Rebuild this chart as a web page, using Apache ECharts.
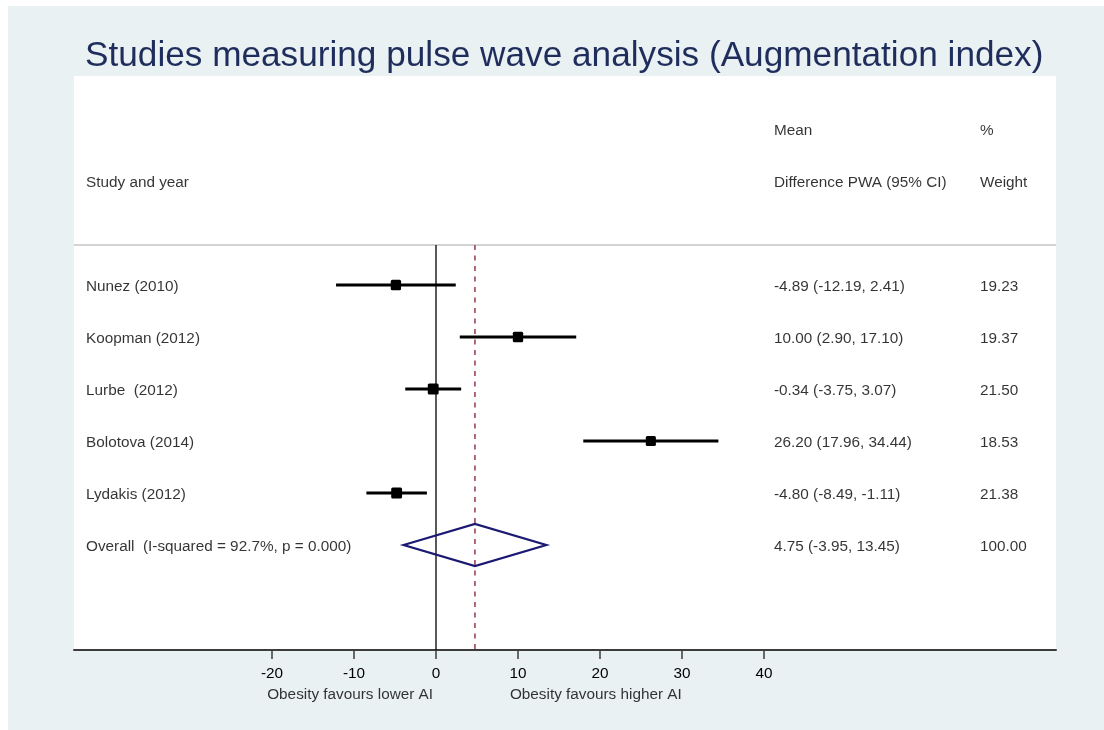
<!DOCTYPE html>
<html>
<head>
<meta charset="utf-8">
<script src="https://cdn.jsdelivr.net/npm/echarts@6/dist/echarts.min.js"></script>
<style>
  html, body { margin: 0; padding: 0; background: #ffffff; }
  #chart { position: absolute; left: 8px; top: 6px; width: 1096px; height: 724px; background: #eaf1f3; }
</style>
</head>
<body>
<div id="chart"></div>
<script>
// ---- Data ----
var studies   = ['Nunez (2010)', 'Koopman (2012)', 'Lurbe  (2012)', 'Bolotova (2014)', 'Lydakis (2012)'];
var estimates = [-4.89, 10.00, -0.34, 26.20, -4.80];
var lowerCI   = [-12.19, 2.90, -3.75, 17.96, -8.49];
var upperCI   = [2.41, 17.10, 3.07, 34.44, -1.11];
var weights   = [19.23, 19.37, 21.50, 18.53, 21.38];
var overallLabel = 'Overall  (I-squared = 92.7%, p = 0.000)';
var overallEst = 4.75, overallLo = -3.95, overallHi = 13.45, overallWeight = 100.00;
var tickValues = [-20, -10, 0, 10, 20, 30, 40];
var favourLabels = ['Obesity favours lower AI', 'Obesity favours higher AI'];
var headerTop = ['Mean', '%'];
var headerBottom = ['Study and year', 'Difference PWA (95% CI)', 'Weight'];
var titleText = 'Studies measuring pulse wave analysis (Augmentation index)';

// ---- Layout constants (data-unit positions of table columns) ----
var X_MIN = -44.146, X_MAX = 75.61;
var Y_MIN = -4.02, Y_MAX = 7.02;
var COL_STUDY = -42.68, COL_CI = 41.22, COL_W = 66.34;
var SEP_Y = -0.77;
var FONT = "'Liberation Sans', Arial, Helvetica, sans-serif";
var FS = 15.3;

function fmt(v) { return v.toFixed(2); }
function ciText(e, l, h) { return fmt(e) + ' (' + fmt(l) + ', ' + fmt(h) + ')'; }

var nRows = studies.length;
var overallRow = nRows;

// text columns
var studyTexts = studies.map(function (s, i) { return { value: [COL_STUDY, i], name: s }; });
studyTexts.push({ value: [COL_STUDY, overallRow], name: overallLabel });
studyTexts.push({ value: [COL_STUDY, -2], name: headerBottom[0] });

var ciTexts = estimates.map(function (e, i) { return { value: [COL_CI, i], name: ciText(e, lowerCI[i], upperCI[i]) }; });
ciTexts.push({ value: [COL_CI, overallRow], name: ciText(overallEst, overallLo, overallHi) });
ciTexts.push({ value: [COL_CI, -3], name: headerTop[0] });
ciTexts.push({ value: [COL_CI, -2], name: headerBottom[1] });

var wTexts = weights.map(function (w, i) { return { value: [COL_W, i], name: fmt(w) }; });
wTexts.push({ value: [COL_W, overallRow], name: fmt(overallWeight) });
wTexts.push({ value: [COL_W, -3], name: headerTop[1] });
wTexts.push({ value: [COL_W, -2], name: headerBottom[2] });

var ciData = estimates.map(function (e, i) { return [i, lowerCI[i], upperCI[i], e, weights[i]]; });

function textSeries(data, pos) {
  return {
    type: 'scatter', data: data, symbolSize: 0, silent: true, clip: false, z: 5,
    label: {
      show: true, position: pos || 'right', distance: 0, offset: [0, 2],
      formatter: function (p) { return p.name; },
      color: '#000', fontFamily: FONT, fontSize: FS
    },
    emphasis: { disabled: true }
  };
}

var chart = echarts.init(document.getElementById('chart'), null, { renderer: 'canvas' });
chart.setOption({
  animation: false,
  backgroundColor: '#eaf1f3',
  title: {
    text: titleText, left: 72, top: 28,
    textStyle: { color: '#1f2d5c', fontFamily: FONT, fontSize: 35.2, fontWeight: 'normal' }
  },
  grid: { left: 66, right: 48, top: 70, bottom: 80, show: true, backgroundColor: '#ffffff', borderWidth: 0 },
  xAxis: {
    type: 'value', min: X_MIN, max: X_MAX,
    splitLine: { show: false },
    axisLine: { show: true, onZero: false, lineStyle: { color: '#3c3c3c', width: 2 } },
    axisTick: { show: true, length: 9, customValues: tickValues, lineStyle: { color: '#3c3c3c', width: 1.5 } },
    axisLabel: { customValues: tickValues, margin: 16, color: '#000', fontFamily: FONT, fontSize: FS }
  },
  yAxis: {
    type: 'value', inverse: true, min: Y_MIN, max: Y_MAX, show: false,
    splitLine: { show: false }
  },
  series: [
    // separator line under header
    { type: 'line', data: [[X_MIN, SEP_Y], [X_MAX, SEP_Y]], symbol: 'none', silent: true,
      lineStyle: { color: '#c4c4c4', width: 1.5 }, z: 1 },
    // null line
    { type: 'line', data: [[0, SEP_Y], [0, Y_MAX]], symbol: 'none', silent: true,
      lineStyle: { color: '#000', width: 1.3 }, z: 2 },
    // overall effect dashed line
    { type: 'line', data: [[overallEst, SEP_Y], [overallEst, Y_MAX]], symbol: 'none', silent: true,
      lineStyle: { color: '#9a4652', width: 1.6, type: [5, 5.5] }, z: 2 },
    // CI lines + boxes
    { type: 'custom', silent: true, z: 4, data: ciData,
      renderItem: function (params, api) {
        var row = api.value(0);
        var a = api.coord([api.value(1), row]);
        var b = api.coord([api.value(2), row]);
        var c = api.coord([api.value(3), row]);
        var s = 10.5 * Math.sqrt(api.value(4) / 20);
        return { type: 'group', children: [
          { type: 'line', shape: { x1: a[0], y1: a[1], x2: b[0], y2: b[1] }, style: { stroke: '#000', lineWidth: 3 } },
          { type: 'rect', shape: { x: c[0] - s / 2, y: c[1] - s / 2, width: s, height: s, r: 1.5 }, style: { fill: '#000' } }
        ] };
      }
    },
    // overall diamond
    { type: 'custom', silent: true, z: 4, data: [[overallRow, overallLo, overallHi, overallEst]],
      renderItem: function (params, api) {
        var row = api.value(0), h = 0.404;
        var pts = [
          api.coord([api.value(1), row]),
          api.coord([api.value(3), row - h]),
          api.coord([api.value(2), row]),
          api.coord([api.value(3), row + h])
        ];
        return { type: 'polygon', shape: { points: pts }, style: { fill: 'none', stroke: '#1a1a72', lineWidth: 2.2, lineJoin: 'miter' } };
      }
    },
    textSeries(studyTexts),
    textSeries(ciTexts),
    textSeries(wTexts),
    textSeries([{ value: [-0.366, 7.85], name: favourLabels[0] }], 'left'),
    textSeries([{ value: [9.02, 7.85], name: favourLabels[1] }], 'right')
  ]
});
</script>
</body>
</html>
